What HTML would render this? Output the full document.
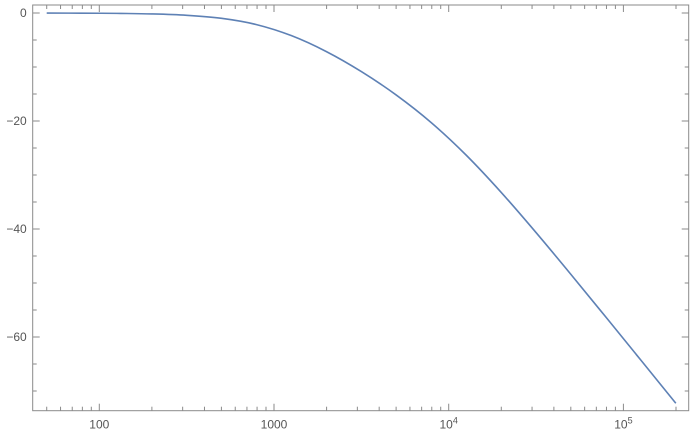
<!DOCTYPE html>
<html><head><meta charset="utf-8"><style>
html,body{margin:0;padding:0;background:#fff;}
svg{display:block;font-family:"Liberation Sans",sans-serif;}
</style></head><body>
<svg id="chart" width="695" height="434" viewBox="0 0 695 434">
<g id="ticks"></g>
<rect x="32.7" y="5" width="656" height="405.7" fill="none" stroke="#8a8a8a" stroke-width="1"/>
<g id="labels"></g>
<path id="curve" fill="none" stroke="#5e81b5" stroke-width="1.6"/>
</svg>
<script>
const freqs=[50,79,126,200,316,501,794,1259,1995,3162,5012,7943,12589,19953,31623,50119,79433,125893,199526];
const dbValues=[-0.01,-0.03,-0.07,-0.17,-0.42,-0.99,-2.15,-4.20,-7.15,-10.85,-15.20,-20.30,-26.32,-33.20,-40.66,-48.42,-56.33,-64.29,-72.27];
const yMajorTicks=[0,-20,-40,-60];
const yTickLabels=["0","\u221220","\u221240","\u221260"];
const xMajorTicks=[100,1000,10000,100000];

const L=32.7,R=688.7,T=5,B=410.7;
const X=f=>274+(Math.log10(f)-3)*174.7;
const Y=v=>13-v*5.4;
const NS='http://www.w3.org/2000/svg';
const tg=document.getElementById('ticks'),lg=document.getElementById('labels');
function line(x1,y1,x2,y2){const l=document.createElementNS(NS,'line');
l.setAttribute('x1',x1);l.setAttribute('y1',y1);l.setAttribute('x2',x2);l.setAttribute('y2',y2);
l.setAttribute('stroke','#8a8a8a');l.setAttribute('stroke-width','1');


tg.appendChild(l);}
for(let d=1;d<=5;d++){for(let m=1;m<=9;m++){const f=m*Math.pow(10,d);const x=X(f);if(x<L||x>R)continue;
const len=m===1?7:4;line(x,B,x,B-len);line(x,T,x,T+len);}}
for(let v=0;v>=-75;v-=5){const y=Y(v);if(y>B||y<T)continue;const len=v%20===0?7:4;line(L,y,L+len,y);line(R,y,R-len,y);}
yMajorTicks.forEach((v,i)=>{const t=document.createElementNS(NS,'text');
t.setAttribute('x',L-6);t.setAttribute('y',Y(v)+4);t.setAttribute('text-anchor','end');
t.setAttribute('font-size','12');t.setAttribute('fill','#555');t.textContent=yTickLabels[i];


lg.appendChild(t);});
xMajorTicks.forEach(f=>{const t=document.createElementNS(NS,'text');
t.setAttribute('x',X(f));t.setAttribute('y',B+18);t.setAttribute('text-anchor','middle');
t.setAttribute('font-size','12');t.setAttribute('fill','#555');
const e=Math.round(Math.log10(f));
if(e<=3){t.textContent=String(f);}else{
const a=document.createElementNS(NS,'tspan');a.textContent='10';t.appendChild(a);
const b=document.createElementNS(NS,'tspan');b.textContent=String(e);b.setAttribute('dy','-5');b.setAttribute('font-size','9');t.appendChild(b);}


lg.appendChild(t);});
const P=freqs.map((f,i)=>[X(f),Y(dbValues[i])]);
let d='M'+P[0][0]+','+P[0][1];
for(let i=0;i<P.length-1;i++){const p0=P[Math.max(0,i-1)],p1=P[i],p2=P[i+1],p3=P[Math.min(P.length-1,i+2)];
const c1=[p1[0]+(p2[0]-p0[0])/6,p1[1]+(p2[1]-p0[1])/6],c2=[p2[0]-(p3[0]-p1[0])/6,p2[1]-(p3[1]-p1[1])/6];
d+=' C'+c1+' '+c2+' '+p2;}
document.getElementById('curve').setAttribute('d',d);
</script>
</body></html>
